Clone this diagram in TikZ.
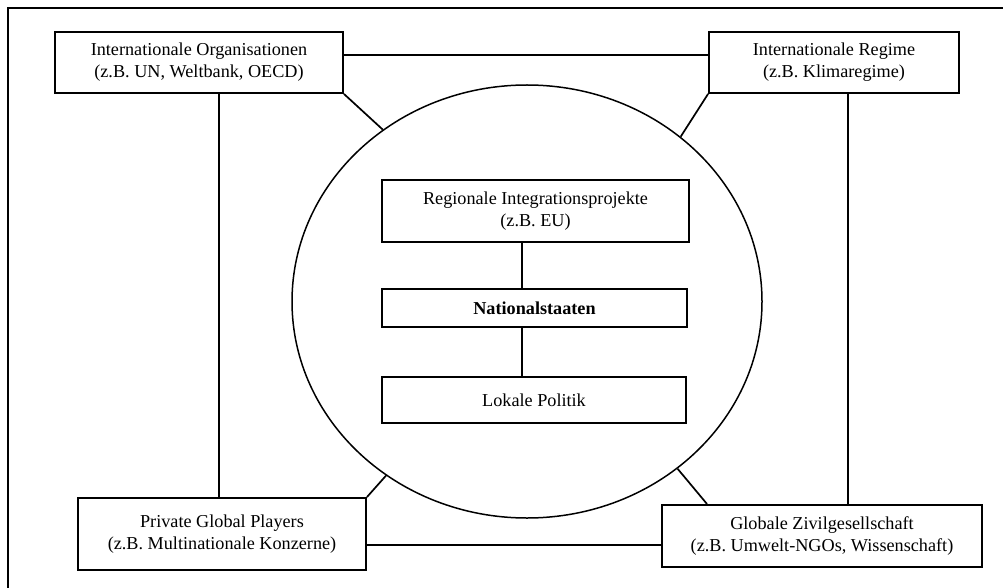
\documentclass[tikz,border=0pt]{standalone}
\usepackage{fontspec}
\setmainfont{Liberation Serif}
\usetikzlibrary{shapes.geometric}
\begin{document}
\begin{tikzpicture}[x=1pt,y=-1pt,
  actor/.style={draw,line width=1.9pt,inner sep=0pt,align=center,
    font=\fontsize{18.2}{22}\selectfont},
  link/.style={line width=1.7pt}]
\clip (0,0) rectangle (1003,588);
% outer frame
\draw[line width=1.6pt] (8,8) rectangle (1020,600);
% global actors
\node[actor,minimum width=288pt,minimum height=61pt] (io) at (199,62.5)
  {Internationale Organisationen\\(z.B. UN, Weltbank, OECD)};
\node[actor,minimum width=250pt,minimum height=61pt] (ir) at (834,62.5)
  {Internationale Regime\\(z.B. Klimaregime)};
\node[actor,minimum width=288pt,minimum height=72pt] (pgp) at (222,534)
  {Private Global Players\\(z.B. Multinationale Konzerne)};
\node[actor,minimum width=320pt,minimum height=62pt] (gz) at (822,536)
  {Globale Zivilgesellschaft\\(z.B. Umwelt-NGOs, Wissenschaft)};
% the state sphere
\node[draw,ellipse,line width=1.5pt,inner sep=0pt,
  minimum width=470pt,minimum height=433pt] (circ) at (527,301.5) {};
\node[actor,minimum width=307pt,minimum height=62pt] (reg) at (535.5,211)
  {Regionale Integrationsprojekte\\(z.B. EU)};
\node[actor,minimum width=305pt,minimum height=38pt,font=\fontsize{18.2}{22}\selectfont\bfseries] (nat) at (534.5,308)
  {Nationalstaaten};
\node[actor,minimum width=304pt,minimum height=46pt] (lok) at (534,400)
  {Lokale Politik};
% connectors between actors
\draw[link] ([yshift=7.5pt]io.east) -- ([yshift=7.5pt]io.east -| ir.west);
\draw[link] ([yshift=-11pt]pgp.east) -- ([yshift=-11pt]pgp.east -| gz.west);
\draw[link] ([xshift=20pt]io.south) -- ([xshift=20pt]io.south |- pgp.north);
\draw[link] ([xshift=14pt]ir.south) -- ([xshift=14pt]ir.south |- gz.north);
% connectors to the sphere
\draw[link] (io.south east) -- (circ.130.9);
\draw[link] (ir.south west) -- (circ.47.2);
\draw[link] (pgp.north east) -- (circ.231.3);
\draw[link] ([xshift=46pt]gz.north west) -- (circ.-48.9);
% inner chain
\draw[link] ([xshift=-13.5pt]reg.south) -- ([xshift=-13.5pt]reg.south |- nat.north);
\draw[link] ([xshift=-12.5pt]nat.south) -- ([xshift=-12.5pt]nat.south |- lok.north);
\end{tikzpicture}
\end{document}
